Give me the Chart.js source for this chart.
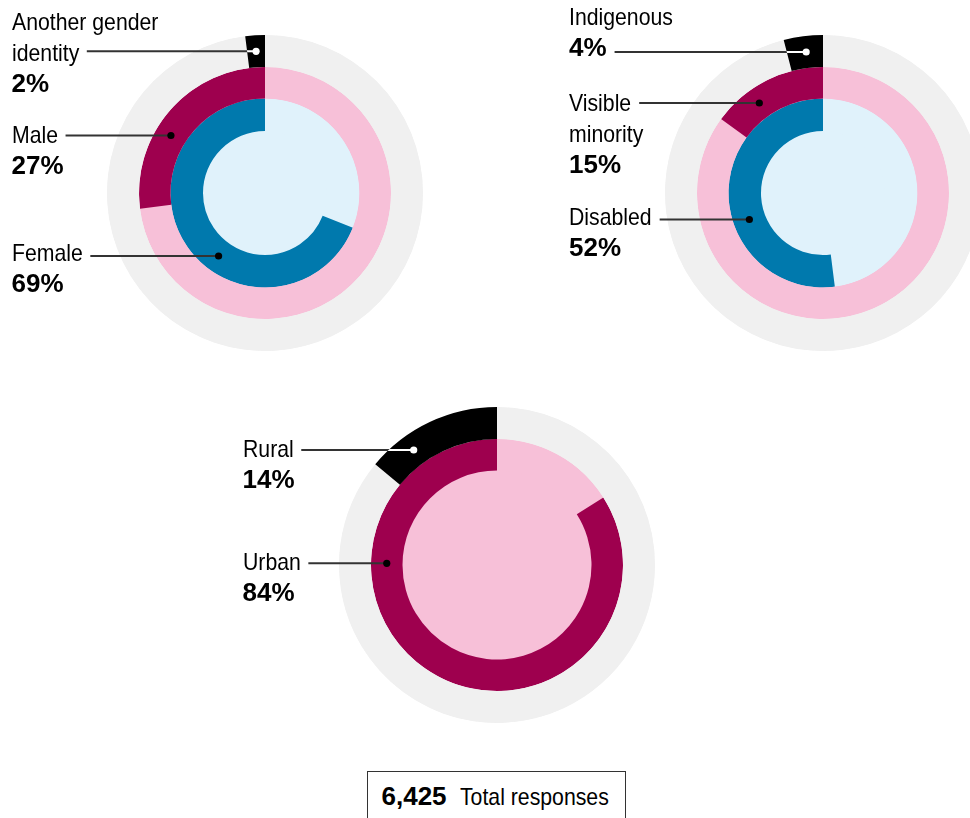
<!DOCTYPE html>
<html>
<head>
<meta charset="utf-8">
<script src="https://cdn.jsdelivr.net/npm/chart.js@4.4.1/dist/chart.umd.min.js"></script>
<style>
  html, body { margin: 0; padding: 0; background: #fff; }
  body { width: 970px; height: 818px; position: relative; overflow: hidden;
         font-family: "Liberation Sans", Arial, sans-serif; color: #000; }
  canvas { position: absolute; z-index: 1; }
  .lab { position: absolute; z-index: 2; white-space: nowrap; }
  .row { height: 31px; line-height: 31px; font-size: 24px; }
  .row span { display: inline-block; transform: scaleX(0.885); transform-origin: 0 50%; }
  .row.pct span { font-weight: bold; font-size: 26px; transform: none; }
  #total { position: absolute; left: 367px; top: 771px; width: 259px; height: 70px;
           box-sizing: border-box; border: 1.5px solid #333; z-index: 2; }
  #total span { position: absolute; top: 8.5px; height: 31px; line-height: 31px; white-space: nowrap; }
  #total .b { left: 13.5px; font-weight: bold; font-size: 26px; }
  #total .r { left: 91.5px; font-size: 24px; transform: scaleX(0.885); transform-origin: 0 50%; }
</style>
</head>
<body>
<div id="total"></div>
<script>
// ---------------- DATA ----------------
const genderCategories = ['Another gender\nidentity', 'Male', 'Female'];
const genderValues = [2, 27, 69];

const diversityCategories = ['Indigenous', 'Visible\nminority', 'Disabled'];
const diversityValues = [4, 15, 52];

const locationCategories = ['Rural', 'Urban'];
const locationValues = [14, 84];

const totalResponses = 6425;
const totalLabel = 'Total responses';

// ---------------- STYLE / LAYOUT ----------------
const COLORS = {
  track: '#f0f0f0', black: '#000000', crimson: '#9e004e',
  pink: '#f7c0d8', blue: '#0079ad', lightBlue: '#e0f2fb'
};

const CHARTS = [
  { left: 0, top: 0, w: 430, h: 360, pad: { left: 107, top: 35, right: 7, bottom: 9 },
    cats: genderCategories, vals: genderValues,
    rings: [ { mark: 'black', track: 'track', weight: 32 },
             { mark: 'crimson', track: 'pink', weight: 31.5 },
             { mark: 'blue', track: 'lightBlue', weight: 32.5 } ],
    core: { color: 'lightBlue', weight: 62 },
    labels: [ { x: 11.5, top: 6, leaderRow: 1, lineY: 52 },
              { x: 11.5, top: 119.4, leaderRow: 0, lineY: 135.5 },
              { x: 11.5, top: 237.2, leaderRow: 0, lineY: 256 } ] },
  { left: 540, top: 0, w: 460, h: 360, pad: { left: 125, top: 35, right: 19, bottom: 9 },
    cats: diversityCategories, vals: diversityValues,
    rings: [ { mark: 'black', track: 'track', weight: 32 },
             { mark: 'crimson', track: 'pink', weight: 31.5 },
             { mark: 'blue', track: 'lightBlue', weight: 32.5 } ],
    core: { color: 'lightBlue', weight: 62 },
    labels: [ { x: 569, top: 1.2, leaderRow: 1, lineY: 52 },
              { x: 569, top: 87, leaderRow: 0, lineY: 103 },
              { x: 569, top: 200.5, leaderRow: 0, lineY: 219.5 } ] },
  { left: 230, top: 390, w: 440, h: 350, pad: { left: 109, top: 17, right: 15, bottom: 17 },
    cats: locationCategories, vals: locationValues,
    rings: [ { mark: 'black', track: 'track', weight: 32 },
             { mark: 'crimson', track: 'pink', weight: 31.5 } ],
    core: { color: 'pink', weight: 94.5 },
    labels: [ { x: 242.5, top: 433.2, leaderRow: 0, lineY: 450 },
              { x: 242.5, top: 546.2, leaderRow: 0, lineY: 563.3 } ] }
];

// ---------------- LABEL TEXT (DOM) ----------------
function buildLabel(cfg, i) {
  const L = cfg.labels[i];
  const div = document.createElement('div');
  div.className = 'lab';
  div.style.left = L.x + 'px';
  div.style.top = L.top + 'px';
  cfg.cats[i].split('\n').forEach(t => {
    const r = document.createElement('div');
    r.className = 'row';
    const s = document.createElement('span');
    s.textContent = t;
    r.appendChild(s);
    div.appendChild(r);
  });
  const p = document.createElement('div');
  p.className = 'row pct';
  const ps = document.createElement('span');
  ps.textContent = cfg.vals[i] + '%';
  p.appendChild(ps);
  div.appendChild(p);
  document.body.appendChild(div);
  L.el = div;
}

const TWO_PI = Math.PI * 2;
function normAngle(a, from) {
  while (a < from) a += TWO_PI;
  while (a >= from + TWO_PI) a -= TWO_PI;
  return a;
}

// ---------------- UNDERLAY (track discs, avoids AA seams) ----------------
const underlayPlugin = {
  id: 'underlay',
  beforeDatasetsDraw(chart, args, opts) {
    const cfg = opts.cfg;
    if (!cfg) return;
    const ctx = chart.ctx;
    ctx.save();
    cfg.rings.forEach((r, i) => {
      const arc = chart.getDatasetMeta(i).data[0];
      ctx.fillStyle = COLORS[r.track];
      ctx.beginPath();
      ctx.arc(arc.x, arc.y, arc.outerRadius - 0.3, 0, TWO_PI);
      ctx.fill();
    });
    ctx.restore();
  }
};

// ---------------- LEADER LINES PLUGIN ----------------
const leaderPlugin = {
  id: 'leaders',
  afterDatasetsDraw(chart, args, opts) {
    const cfg = opts.cfg;
    if (!cfg) return;
    const ctx = chart.ctx;
    cfg.labels.forEach((L, i) => {
      const arc = chart.getDatasetMeta(i).data[1];
      const cx = arc.x, cy = arc.y;
      const rIn = arc.innerRadius, rOut = arc.outerRadius;
      const rm = (rIn + rOut) / 2;
      let y = L.lineY - cfg.top;
      let dy = y - cy;
      let dotX = cx - Math.sqrt(Math.max(rm * rm - dy * dy, 0));
      // keep the dot well inside the segment: else use the segment's mid-angle
      const span = arc.endAngle - arc.startAngle;
      const theta = normAngle(Math.atan2(dy, dotX - cx), arc.startAngle);
      if (theta < arc.startAngle + span * 0.25 || theta > arc.endAngle - span * 0.25) {
        const mid = (arc.startAngle + arc.endAngle) / 2;
        dotX = cx + rm * Math.cos(mid);
        y = cy + rm * Math.sin(mid);
      }
      const rowSpan = L.el.children[L.leaderRow].firstChild;
      const rect = rowSpan.getBoundingClientRect();
      const x0 = rect.right - cfg.left + 8;
      const light = cfg.rings[i].mark === 'black';
      ctx.save();
      ctx.lineWidth = 2;
      ctx.strokeStyle = '#333333';
      ctx.beginPath(); ctx.moveTo(x0, y); ctx.lineTo(dotX, y); ctx.stroke();
      if (light) {
        ctx.save();
        ctx.beginPath();
        ctx.arc(cx, cy, rOut, arc.startAngle, arc.endAngle);
        ctx.arc(cx, cy, rIn, arc.endAngle, arc.startAngle, true);
        ctx.closePath();
        ctx.clip();
        ctx.strokeStyle = '#ffffff';
        ctx.beginPath(); ctx.moveTo(x0, y); ctx.lineTo(dotX, y); ctx.stroke();
        ctx.restore();
      }
      ctx.fillStyle = light ? '#ffffff' : '#000000';
      ctx.beginPath(); ctx.arc(dotX, y, 3.6, 0, TWO_PI); ctx.fill();
      ctx.restore();
    });
  }
};

// ---------------- BUILD CHARTS ----------------
CHARTS.forEach(cfg => {
  cfg.labels.forEach((L, i) => buildLabel(cfg, i));
  const cv = document.createElement('canvas');
  cv.width = cfg.w; cv.height = cfg.h;
  cv.style.left = cfg.left + 'px';
  cv.style.top = cfg.top + 'px';
  cv.style.width = cfg.w + 'px';
  cv.style.height = cfg.h + 'px';
  document.body.appendChild(cv);

  const datasets = cfg.rings.map((r, i) => ({
    label: cfg.cats[i],
    data: [100 - cfg.vals[i], cfg.vals[i]],
    backgroundColor: [COLORS[r.track], COLORS[r.mark]],
    weight: r.weight
  }));
  datasets.push({
    label: 'core',
    data: [100],
    backgroundColor: [COLORS[cfg.core.color]],
    weight: cfg.core.weight
  });

  new Chart(cv, {
    type: 'doughnut',
    data: { labels: ['remaining', 'share'], datasets },
    options: {
      responsive: false,
      animation: false,
      events: [],
      cutout: 0,
      rotation: 0,
      spacing: 0,
      borderWidth: 0,
      hoverBorderWidth: 0,
      offset: 0,
      hoverOffset: 0,
      layout: { padding: cfg.pad },
      plugins: {
        legend: { display: false },
        tooltip: { enabled: false },
        leaders: { cfg },
        underlay: { cfg }
      }
    },
    plugins: [underlayPlugin, leaderPlugin]
  });
});

// ---------------- TOTAL BOX ----------------
const tot = document.getElementById('total');
const b = document.createElement('span'); b.className = 'b';
b.textContent = totalResponses.toLocaleString('en-US');
const r = document.createElement('span'); r.className = 'r';
r.textContent = totalLabel;
tot.appendChild(b); tot.appendChild(r);
</script>
</body>
</html>
